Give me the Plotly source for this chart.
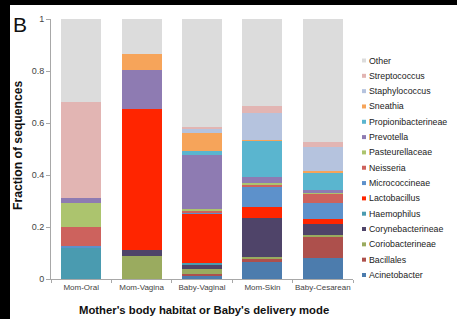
import plotly.graph_objects as go

categories = ["Mom-Oral", "Mom-Vagina", "Baby-Vaginal", "Mom-Skin", "Baby-Cesarean"]

# stacking order: bottom -> top
Acinetobacter       = [0.000, 0.000, 0.010, 0.064, 0.080]
Bacillales          = [0.000, 0.000, 0.010, 0.013, 0.083]
Coriobacterineae    = [0.000, 0.088, 0.020, 0.008, 0.005]
Corynebacterineae   = [0.000, 0.022, 0.015, 0.148, 0.044]
Haemophilus         = [0.122, 0.000, 0.005, 0.000, 0.000]
Lactobacillus       = [0.000, 0.543, 0.190, 0.043, 0.019]
Micrococcineae      = [0.005, 0.000, 0.006, 0.079, 0.060]
Neisseria           = [0.074, 0.000, 0.006, 0.010, 0.036]
Pasteurellaceae     = [0.090, 0.000, 0.006, 0.003, 0.003]
Prevotella          = [0.019, 0.150, 0.208, 0.023, 0.012]
Propionibacterineae = [0.000, 0.000, 0.017, 0.141, 0.064]
Sneathia            = [0.000, 0.061, 0.070, 0.004, 0.011]
Staphylococcus      = [0.000, 0.000, 0.013, 0.104, 0.089]
Streptococcus       = [0.372, 0.000, 0.010, 0.027, 0.022]
Other               = [0.318, 0.136, 0.414, 0.333, 0.472]

series_names = ["Acinetobacter", "Bacillales", "Coriobacterineae", "Corynebacterineae",
                "Haemophilus", "Lactobacillus", "Micrococcineae", "Neisseria",
                "Pasteurellaceae", "Prevotella", "Propionibacterineae", "Sneathia",
                "Staphylococcus", "Streptococcus", "Other"]
series_values = [Acinetobacter, Bacillales, Coriobacterineae, Corynebacterineae,
                 Haemophilus, Lactobacillus, Micrococcineae, Neisseria,
                 Pasteurellaceae, Prevotella, Propionibacterineae, Sneathia,
                 Staphylococcus, Streptococcus, Other]
colors = ["#4c7cad", "#ad504c", "#9aab5f", "#4f4469", "#4a9bb0", "#ff2500",
          "#5d91cb", "#cd625d", "#acc46e", "#8e7bb2", "#5ab5cf", "#f6a45a",
          "#b5c3de", "#e2b5b3", "#dcdcdc"]

y_ticks = [0, 0.2, 0.4, 0.6, 0.8, 1]
y_ticklabels = ["0", "0.2", "0.4", "0.6", "0.8", "1"]

W, H = 457, 319
L, R, T, B = 51, 104, 19, 40
PW, PH = W - L - R, H - T - B

def px(x):
    return (x - L) / PW

def py(y):
    return (H - B - y) / PH

FONT = "Liberation Sans, Arial, Helvetica, sans-serif"

fig = go.Figure()
for name, vals, col in zip(series_names, series_values, colors):
    fig.add_trace(go.Bar(x=categories, y=vals, name=name, marker_color=col,
                         marker_line_width=0, showlegend=False, hoverinfo="skip"))

shapes = []
annotations = []
# white canvas over a black page: leaves black strips at top and left
shapes.append(dict(type="rect", xref="paper", yref="paper", x0=px(10), x1=px(W + 3),
                   y0=py(H + 3), y1=py(5), fillcolor="white",
                   line=dict(width=0, color="white"), layer="below"))

# custom legend (top: Other ... bottom: Acinetobacter)
leg_names = list(reversed(series_names))
leg_cols = list(reversed(colors))
y0, step = 60.5, 15.32
for i, (n, c) in enumerate(zip(leg_names, leg_cols)):
    yc = y0 + i * step
    shapes.append(dict(type="rect", xref="paper", yref="paper",
                       x0=px(362), x1=px(366), y0=py(yc + 2), y1=py(yc - 2),
                       fillcolor=c, line_width=0))
    annotations.append(dict(text=n, xref="paper", yref="paper", x=px(366.5), y=py(yc),
                            xanchor="left", yanchor="middle", showarrow=False,
                            font=dict(family=FONT, size=8.8, color="#222")))

annotations.append(dict(text="B", xref="paper", yref="paper", x=px(11), y=py(24.5),
                        xanchor="left", yanchor="middle", showarrow=False,
                        font=dict(family=FONT, size=21, color="#111")))
annotations.append(dict(text="<b>Fraction of sequences</b>", xref="paper", yref="paper",
                        x=px(18), y=py(145), xanchor="center", yanchor="middle",
                        textangle=-90, showarrow=False,
                        font=dict(family=FONT, size=12.2, color="#111")))
annotations.append(dict(text="<b>Mother's body habitat or Baby's delivery mode</b>",
                        xref="paper", yref="paper", x=px(203.5), y=py(310),
                        xanchor="center", yanchor="middle", showarrow=False,
                        font=dict(family=FONT, size=11.3, color="#111")))

fig.update_layout(
    width=W, height=H,
    margin=dict(l=L, r=R, t=T, b=B, pad=0),
    barmode="stack", bargap=0.34,
    paper_bgcolor="black", plot_bgcolor="white",
    font=dict(family=FONT),
    shapes=shapes, annotations=annotations,
    showlegend=False,
    hovermode=False,
    xaxis=dict(range=[-0.5, 4.5], showline=True, linecolor="#a8a8a8", linewidth=1,
               ticks="outside", tickson="boundaries", ticklen=3, tickcolor="#a8a8a8",
               tickangle=0, automargin=False, fixedrange=True,
               tickfont=dict(family=FONT, size=8, color="#444"), showgrid=False,
               zeroline=False),
    yaxis=dict(range=[0, 1], showline=True, linecolor="#a8a8a8", linewidth=1,
               ticks="outside", ticklen=4, tickcolor="#a8a8a8", automargin=False,
               fixedrange=True,
               tickvals=y_ticks, ticktext=y_ticklabels,
               tickfont=dict(family=FONT, size=9, color="#444"), showgrid=False,
               zeroline=False),
)

fig.write_html("out.html", config={"displayModeBar": False},
               post_script="document.body.style.margin='0';document.body.style.overflow='hidden';")
